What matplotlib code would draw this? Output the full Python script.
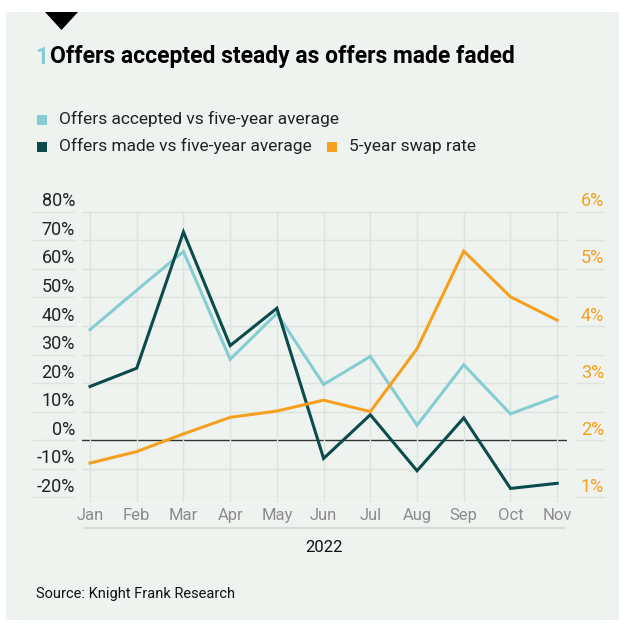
import matplotlib.pyplot as plt
from matplotlib.patches import Rectangle, Polygon
from matplotlib.lines import Line2D

months = ["Jan", "Feb", "Mar", "Apr", "May", "Jun", "Jul", "Aug", "Sep", "Oct", "Nov"]
offers_accepted = [38.7, 52.5, 66.1, 28.3, 44.4, 19.5, 29.3, 5.2, 26.4, 9.2, 15.3]
offers_made = [18.8, 25.2, 72.9, 33.1, 46.2, -6.4, 8.9, -10.7, 7.8, -16.9, -15.1]
swap_rate = [1.60, 1.80, 2.11, 2.40, 2.51, 2.70, 2.50, 3.60, 5.31, 4.51, 4.10]
left_ticks = [-20, -10, 0, 10, 20, 30, 40, 50, 60, 70, 80]
right_ticks = [1, 2, 3, 4, 5, 6]

W, H = 623, 624
BG = "#eff3ef"
GRID = "#dde3de"
LIGHT = "#86cdd2"
DARK = "#0b4b4b"
ORANGE = "#f5a01f"

plt.rcParams["font.family"] = ["Roboto", "DejaVu Sans"]

fig = plt.figure(figsize=(W / 100, H / 100), dpi=100)
fig.patch.set_facecolor("white")


def fx(px):
    return px / W


def fy(py):
    return 1 - py / H


# panel and marker triangle
fig.patches.append(Rectangle((fx(6), fy(620)), fx(613), 608 / H, transform=fig.transFigure,
                             facecolor=BG, edgecolor="none", zorder=-10))
fig.patches.append(Polygon([(fx(45), fy(12)), (fx(78), fy(12)), (fx(61.5), fy(30))],
                           closed=True, transform=fig.transFigure, facecolor="black", zorder=-5))

# title
fig.text(fx(35), fy(57), "1", color=LIGHT, fontsize=16.5, fontweight="bold", va="center")
fig.text(fx(50), fy(57), "Offers accepted steady as offers made faded", color="black",
         fontsize=16.5, fontweight="bold", va="center")

# legend
legend_items = [(37, 120, LIGHT, "Offers accepted vs five-year average"),
                (37, 147, DARK, "Offers made vs five-year average"),
                (327, 147, ORANGE, "5-year swap rate")]
for x, y, c, lab in legend_items:
    fig.patches.append(Rectangle((fx(x), fy(y + 5)), fx(10), 10 / H, transform=fig.transFigure,
                                 facecolor=c, edgecolor="none", zorder=-5))
    fig.text(fx(x + 22), fy(y - 1), lab, fontsize=12.5, color="#222222", va="center")

# axes
x0, x1, ytop, ybot = 81.7, 567, 211.7, 497.3
ax = fig.add_axes([fx(x0), fy(ybot), fx(x1 - x0), (ybot - ytop) / H])
ax.set_facecolor("none")
ax2 = ax.twinx()
ax2.set_facecolor("none")

xs = list(range(len(months)))
ax.set_xlim(-0.178, 10.21)
ax.set_ylim(-20, 80)
ax2.set_ylim(1, 6)

for a in (ax, ax2):
    for s in a.spines.values():
        s.set_visible(False)
    a.set_yticks([])
    a.set_xticks([])

yt = ax.get_yaxis_transform()
for v in left_ticks:
    col = "#333333" if v == 0 else GRID
    ax.plot([0, 1], [v, v], transform=yt, color=col, lw=1.0, zorder=1)
    ax.plot([-0.1003, -0.0159], [v, v], transform=yt, color=GRID, lw=1.0, clip_on=False, zorder=1)
    ax.plot([1.0185, 1.0762], [v, v], transform=yt, color=GRID, lw=1.0, clip_on=False, zorder=1)
    ax.text(-0.0139, v + 1.9, f"{v}%", transform=yt, ha="right", va="baseline",
            fontsize=13, color="#222222")

yt2 = ax2.get_yaxis_transform()
for r in right_ticks:
    ax2.text(1.076, r + 0.095, f"{r}%", transform=yt2, ha="right", va="baseline",
             fontsize=13, color=ORANGE)

for i in xs:
    ax.plot([i, i], [-21.3, 80], color=GRID, lw=1.0, clip_on=False, zorder=1)
    ax.text(i, -26.2, months[i], ha="center", va="center", fontsize=12, color="#8c8c8c")

ax.add_line(Line2D([-0.11, 10.15], [-30.9, -30.9], color="#d8dcd8", lw=1.6, clip_on=False))
ax.text(5, -37.5, "2022", ha="center", va="center", fontsize=12, color="#111111")

ax.plot(xs, offers_accepted, color=LIGHT, lw=2.2, zorder=3, solid_joinstyle="miter")
ax.plot(xs, offers_made, color=DARK, lw=2.2, zorder=4, solid_joinstyle="miter")
ax2.plot(xs, swap_rate, color=ORANGE, lw=2.2, zorder=3, solid_joinstyle="miter")

fig.text(fx(36), fy(594), "Source: Knight Frank Research", fontsize=10.5, color="#111111", va="center")

fig.savefig("out.png", dpi=100, facecolor=fig.get_facecolor())
